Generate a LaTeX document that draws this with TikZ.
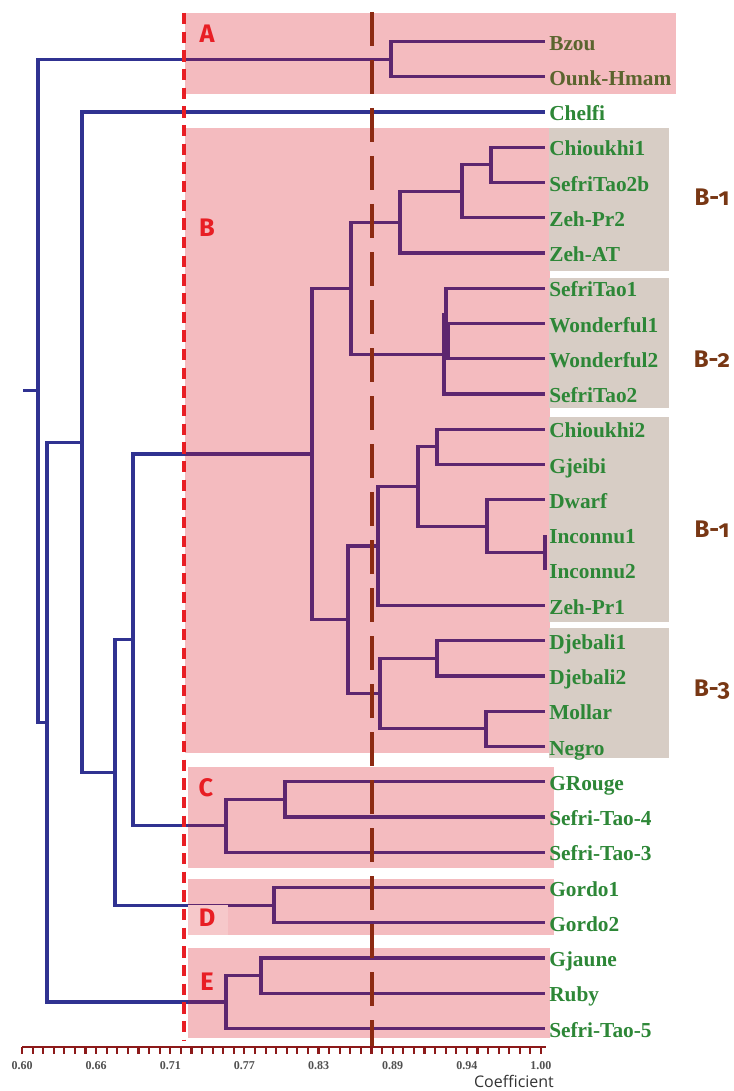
\documentclass[tikz,border=0pt]{standalone}
\usepackage{fontspec}
\setmainfont{Liberation Serif}
\newfontfamily\grpfont[Numbers=OldStyle]{Fira Sans}
\newfontfamily\cofont{Open Sans}
\pgfdeclarelayer{lines}
\pgfdeclarelayer{tintlayer}
\pgfdeclarelayer{boxes}
\pgfsetlayers{lines,tintlayer,boxes,main}
\definecolor{treeblue}{RGB}{48,50,145}
\definecolor{tintred}{RGB}{215,7,22}
\definecolor{boxgray}{RGB}{215,205,197}
\definecolor{leafgreen}{RGB}{45,135,55}
\definecolor{grpred}{RGB}{232,30,36}
\definecolor{subbrown}{RGB}{120,55,20}
\definecolor{cutbrown}{RGB}{140,42,18}
\definecolor{axisred}{RGB}{140,25,25}
\definecolor{axlabgray}{RGB}{80,80,80}
\definecolor{dlight}{RGB}{246,200,202}
\begin{document}
\begin{tikzpicture}[x=0.75pt,y=-0.75pt,
 tree/.style={draw=treeblue, line width=2.3pt},
 leaf/.style={anchor=west, inner xsep=3pt, inner ysep=0pt, text height=13pt, text depth=0pt, font=\fontsize{16}{18}\selectfont\bfseries, text=leafgreen},
 tint/.style={fill=tintred, fill opacity=0.27},
 graybox/.style={fill=boxgray},
 grp/.style={text=grpred, font=\grpfont\bfseries\fontsize{19}{22}\selectfont, inner sep=0pt},
 sub/.style={text=subbrown, font=\grpfont\bfseries\fontsize{18}{22}\selectfont, inner sep=0pt, anchor=base},
 reddash/.style={draw=grpred, line width=2.3pt, dash pattern=on 8.5pt off 5.5pt},
 browndash/.style={draw=cutbrown, line width=2.5pt, dash pattern=on 25.5pt off 10.5pt},
 axisline/.style={draw=axisred, line width=2.2pt},
 tickmark/.style={draw=axisred, line width=1.6pt},
 axlab/.style={text=axlabgray, font=\fontsize{9}{10}\selectfont\bfseries, inner sep=0pt},
 coef/.style={text=black!80, font=\cofont\fontsize{12}{14}\selectfont, inner sep=0pt}
]
\useasboundingbox (0,0) rectangle (734,1091);
% ---------- leaves ----------
\begin{pgfonlayer}{lines}
\fill[white] (0,0) rectangle (734,1091);
\node[leaf] (t0) at (545,41.5) {Bzou};
\node[leaf] (t1) at (545,76.75) {Ounk-Hmam};
\end{pgfonlayer}
\foreach \nm [count=\i from 2] in {Chelfi,Chioukhi1,SefriTao2b,Zeh-Pr2,Zeh-AT,SefriTao1,Wonderful1,Wonderful2,SefriTao2,Chioukhi2,Gjeibi,Dwarf,Inconnu1,Inconnu2,Zeh-Pr1,Djebali1,Djebali2,Mollar,Negro,GRouge,Sefri-Tao-4,Sefri-Tao-3,Gordo1,Gordo2,Gjaune,Ruby,Sefri-Tao-5}
  \node[leaf] (t\i) at (545,{41.5+35.25*\i}) {\nm};
% ---------- internal merge points ----------
\coordinate (nA) at (391,59.1);
\coordinate (n34) at (491,164.9);
\coordinate (n345) at (462,191.3);
\coordinate (n3456) at (400,222.2);
\coordinate (n89) at (448,341.1);
\coordinate (n789) at (446,314.7);
\coordinate (nB2) at (444,354.3);
\coordinate (nBup) at (351,288.3);
\coordinate (n1112) at (437,446.9);
\coordinate (n1415) at (545,552.6);
\coordinate (n131415) at (487,526.2);
\coordinate (n1115) at (418,486.5);
\coordinate (n1116) at (378,546);
\coordinate (n1718) at (437,658.4);
\coordinate (n1920) at (486,728.9);
\coordinate (nB3) at (380,693.6);
\coordinate (nBlow) at (348,619.8);
\coordinate (nB) at (312,454);
\coordinate (n2122) at (285,799.4);
\coordinate (nC) at (226,825.8);
\coordinate (nD) at (274,905.1);
\coordinate (n2627) at (261,975.6);
\coordinate (nE) at (226,1002);
\coordinate (nBC) at (133,639.9);
\coordinate (nBCD) at (115,772.5);
\coordinate (nCh) at (82,442.3);
\coordinate (nRest) at (47,722.1);
\coordinate (root) at (38,390.6);
\coordinate (stub) at (23,390.6);
% ---------- connectors ----------
\begin{pgfonlayer}{lines}
\foreach \p/\c in {nA/t0.west,nA/t1.west,
  n34/t3.west,n34/t4.west,n345/n34,n345/t5.west,n3456/n345,n3456/t6.west,
  n89/t8.west,n89/t9.west,n789/t7.west,n789/n89,nB2/n789,nB2/t10.west,
  nBup/n3456,nBup/nB2,
  n1112/t11.west,n1112/t12.west,n1415/t14.west,n1415/t15.west,
  n131415/t13.west,n131415/n1415,n1115/n1112,n1115/n131415,
  n1116/n1115,n1116/t16.west,
  n1718/t17.west,n1718/t18.west,n1920/t19.west,n1920/t20.west,
  nB3/n1718,nB3/n1920,nBlow/n1116,nBlow/nB3,nB/nBup,nB/nBlow,
  n2122/t21.west,n2122/t22.west,nC/n2122,nC/t23.west,
  nD/t24.west,nD/t25.west,
  n2627/t26.west,n2627/t27.west,nE/n2627,nE/t28.west,
  nBC/nB,nBC/nC,nBCD/nBC,nBCD/nD,nCh/t2.west,nCh/nBCD,
  nRest/nCh,nRest/nE,root/nA,root/nRest}
  \draw[tree] (\p) |- (\c);
\draw[tree] (stub) -- (root);
\end{pgfonlayer}
% ---------- pink group regions ----------
\begin{pgfonlayer}{tintlayer}
\fill[tint] (185,13) rectangle (676,94);
\fill[tint] (185,128) rectangle (550,753);
\fill[tint] (188,767) rectangle (554,868);
\fill[tint] (188,879) rectangle (554,935);
\fill[tint] (188,948) rectangle (550,1038);
\end{pgfonlayer}
% ---------- grey sub-group boxes ----------
\begin{pgfonlayer}{boxes}
\fill[graybox] (549,128) rectangle (669,271);
\fill[graybox] (549,278) rectangle (669,408);
\fill[graybox] (549,417) rectangle (669,622);
\fill[graybox] (549,628) rectangle (669,758);
\fill[dlight] (188,905) rectangle (228,935);
\end{pgfonlayer}
% ---------- cut lines ----------
\draw[reddash] (184,13) -- (184,1040);
\draw[browndash] (372,12) -- (372,1047);
% ---------- group letters ----------
\node[grp] (lA) at (207,34) {A};
\node[grp] (lB) at (207,228) {B};
\node[grp] (lC) at (206,788) {C};
\node[grp] (lD) at (207,918) {D};
\node[grp] (lE) at (207,982) {E};
\node[sub] (s1) at (712,206) {B-1};
\node[sub] (s2) at (712,367) {B-2};
\node[sub] (s3) at (712,537) {B-1};
\node[sub] (s4) at (712,696) {B-3};
% ---------- axis ----------
\draw[axisline] (22,1047) -- (546,1047);
\foreach \k in {0,...,49}
  \draw[tickmark] ({22+\k*74.14/7},1047) -- ++(0,7);
\foreach \v [count=\k from 0] in {0.60,0.66,0.71,0.77,0.83,0.89,0.94,1.00}
  \node[axlab] (ax\k) at ({22+\k*74.14},1066) {\v};
\node[coef] (coef) at (514,1081) {Coefficient};
\end{tikzpicture}
\end{document}
